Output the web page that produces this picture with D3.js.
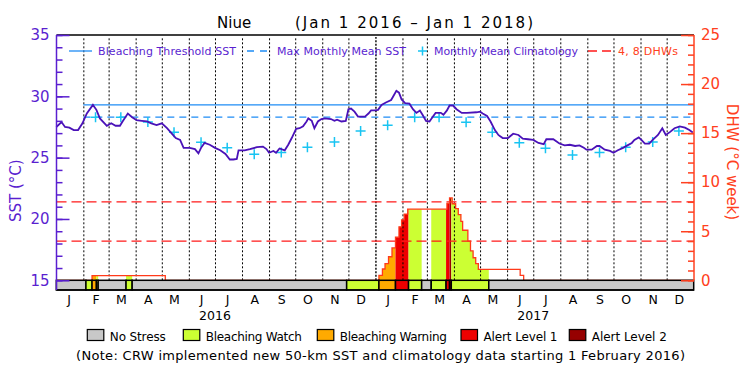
<!DOCTYPE html>
<html>
<head>
<meta charset="utf-8">
<script src="https://cdn.jsdelivr.net/npm/d3@7"></script>
<style>
  body { margin: 0; background: #fff; }
  svg { font-family: 'DejaVu Sans', sans-serif; }
</style>
</head>
<body>
<svg width="750" height="375"></svg>
<script>
// ---- data ----
const sstDates = [
  '2016-01-01','2016-01-07','2016-01-11','2016-01-16','2016-01-21','2016-01-26','2016-01-31',
  '2016-02-05','2016-02-12','2016-02-16','2016-02-20','2016-02-28','2016-03-04','2016-03-09',
  '2016-03-14','2016-03-17','2016-03-23','2016-03-28','2016-04-02','2016-04-08','2016-04-14',
  '2016-04-19','2016-04-25','2016-05-01','2016-05-07','2016-05-12','2016-05-17','2016-05-22',
  '2016-05-26','2016-06-02','2016-06-08','2016-06-12','2016-06-15','2016-06-19','2016-06-25',
  '2016-07-01','2016-07-07','2016-07-13','2016-07-18','2016-07-22','2016-07-26','2016-07-28',
  '2016-08-04','2016-08-10','2016-08-18','2016-08-25','2016-08-29','2016-09-01','2016-09-06',
  '2016-09-09','2016-09-13','2016-09-19','2016-09-23','2016-09-27','2016-10-02','2016-10-06',
  '2016-10-10','2016-10-14','2016-10-16','2016-10-20','2016-10-23','2016-10-27','2016-10-31',
  '2016-11-04','2016-11-11','2016-11-15','2016-11-18','2016-11-23','2016-11-28','2016-12-01',
  '2016-12-04','2016-12-08','2016-12-12','2016-12-20','2016-12-24','2016-12-27','2016-12-31',
  '2017-01-04','2017-01-08','2017-01-13','2017-01-19','2017-01-21','2017-01-25','2017-01-28',
  '2017-01-31','2017-02-04','2017-02-09','2017-02-13','2017-02-17','2017-02-21','2017-02-24',
  '2017-02-28','2017-03-04','2017-03-08','2017-03-11','2017-03-17','2017-03-20','2017-03-24',
  '2017-03-27','2017-03-31','2017-04-04','2017-04-10','2017-04-16','2017-04-27','2017-05-01',
  '2017-05-04','2017-05-09','2017-05-13','2017-05-18','2017-05-22','2017-05-24','2017-05-27',
  '2017-06-02','2017-06-08','2017-06-14','2017-06-19','2017-06-25','2017-07-01','2017-07-07',
  '2017-07-13','2017-07-16','2017-07-24','2017-07-31','2017-08-06','2017-08-12','2017-08-18',
  '2017-08-23','2017-08-28','2017-08-31','2017-09-06','2017-09-12','2017-09-15','2017-09-21',
  '2017-09-27','2017-10-01','2017-10-06','2017-10-12','2017-10-17','2017-10-22','2017-10-25',
  '2017-10-30','2017-11-02','2017-11-06','2017-11-11','2017-11-15','2017-11-21','2017-11-26',
  '2017-11-30','2017-12-05','2017-12-10','2017-12-16','2017-12-22','2017-12-27','2017-12-31'
];
const sstValues = [
  27.5, 27.9, 27.5, 27.45, 27.25, 27.25, 27.8,
  28.6, 29.3, 28.9, 28.2, 27.6, 27.8, 27.6,
  27.6, 27.95, 28.6, 28.3, 28.05, 28.0, 27.95,
  27.8, 27.65, 27.8, 27.4, 27.0, 26.6, 26.45,
  25.8, 25.8, 25.7, 25.35, 25.8, 26.2, 26.05,
  25.8, 25.6, 25.3, 24.85, 24.85, 24.9, 25.6,
  25.6, 25.7, 25.85, 25.9, 25.7, 25.4, 25.55,
  25.4, 25.75, 25.6, 26.05, 26.6, 27.35, 27.4,
  27.55, 27.95, 28.2, 28.0, 27.4, 27.95, 28.15,
  28.2, 28.15, 28.0, 28.1, 27.95, 28.0, 28.95,
  29.0, 28.75, 28.35, 28.35, 28.6, 28.85, 28.85,
  28.9, 29.3, 29.5, 29.7, 29.95, 30.45, 30.3,
  29.75, 29.45, 29.4, 28.95, 28.65, 28.85, 28.5,
  28.0, 27.95, 28.35, 28.65, 28.65, 28.5, 28.85,
  29.25, 29.25, 28.95, 28.65, 28.65, 28.7, 28.75,
  28.6, 28.4, 27.95, 27.25, 26.85, 26.75, 26.6,
  26.6, 26.95, 26.85, 26.55, 26.5, 26.45, 26.2,
  26.1, 26.5, 26.5, 26.15, 26.0, 26.05, 25.95,
  26.0, 25.8, 25.65, 25.65, 25.95, 25.95, 25.65,
  25.55, 25.4, 25.6, 25.8, 26.0, 26.2, 26.45,
  26.65, 26.45, 26.15, 26.15, 26.45, 26.85, 27.4,
  26.85, 27.1, 27.4, 27.55, 27.45, 27.25, 27.05
];

// monthly mean climatology (mid-month crosses)
const climDates = [
  '2016-02-15','2016-03-15','2016-04-15','2016-05-15','2016-06-15','2016-07-15',
  '2016-08-15','2016-09-15','2016-10-15','2016-11-15','2016-12-15',
  '2017-01-15','2017-02-15','2017-03-15','2017-04-15','2017-05-15','2017-06-15',
  '2017-07-15','2017-08-15','2017-09-15','2017-10-15','2017-11-15','2017-12-15'
];
const climValues = [
  28.3, 28.3, 27.9, 27.07, 26.25, 25.8, 25.28, 25.41, 25.85, 26.28, 27.18,
  27.64, 28.3, 28.3, 27.88, 27.07, 26.22, 25.77, 25.22, 25.41, 25.85, 26.28, 27.18
];

const bleachingThreshold = 29.3;
const maxMonthlyMean = 28.3;
const newDataStart = '2016-02-01';

// degree heating weeks (step series)
const dhwDates = [
  '2016-01-01','2016-02-11','2016-05-05',
  '2017-01-05','2017-01-09','2017-01-12','2017-01-16','2017-01-20','2017-01-24','2017-01-28',
  '2017-01-31','2017-02-03','2017-02-07','2017-03-24','2017-03-27','2017-03-30','2017-04-03',
  '2017-04-06','2017-04-09','2017-04-11','2017-04-17','2017-04-20','2017-04-23','2017-04-26',
  '2017-04-29','2017-06-16','2017-06-20','2018-01-01'
];
const dhwValues = [
  0, 0.48, 0,
  0.5, 1.15, 1.7, 2.4, 3.3, 4.4, 5.45,
  6.15, 6.75, 7.25, 7.85, 8.4, 7.8, 7.3,
  6.7, 6.0, 5.1, 4.0, 3.0, 2.3, 1.7,
  1.12, 0.5, 0, 0
];
const dhwLevels = [4, 8];

// stress level band: start of each period and its level
const stressStarts = [
  '2016-01-01','2016-02-04','2016-02-11','2016-02-16','2016-02-18','2016-03-21','2016-03-28',
  '2016-11-29','2017-01-05','2017-01-24','2017-02-08','2017-02-23','2017-03-06','2017-03-23',
  '2017-03-27','2017-03-29','2017-05-11'
];
const stressLevels = [0, 1, 2, 1, 0, 1, 0, 1, 2, 3, 1, 0, 1, 3, 4, 1, 0];
const stressEnd = '2018-01-01';
const stressNames = ['No Stress', 'Bleaching Watch', 'Bleaching Warning', 'Alert Level 1', 'Alert Level 2'];
const stressColors = ['#c8c8c8', '#ccff33', '#ffaa00', '#ee0000', '#960000'];

// ---- drawing ----
const svg = d3.select('svg');
const parse = d3.utcParse('%Y-%m-%d');

const purple = '#5a1fd0';
const orange = '#ff4020';
const blue = '#1e8cf5';
const cyan = '#18c4f2';

const plotLeft = 56.5, plotRight = 694, plotTop = 35, plotBase = 280.3, plotBottom = 290;

const x = d3.scaleUtc()
  .domain([parse('2016-01-01'), parse('2018-01-01')])
  .range([56.3, 693.7]);
const ySST = d3.scaleLinear().domain([15, 35]).range([plotBase, plotTop]);
const yDHW = d3.scaleLinear().domain([0, 25]).range([plotBase, plotTop]);

const sst = sstDates.map((d, i) => ({ date: parse(d), value: sstValues[i] }));
const clim = climDates.map((d, i) => ({ date: parse(d), value: climValues[i] }));
const dhw = dhwDates.map((d, i) => ({ date: parse(d), value: dhwValues[i] }));
const stress = stressStarts.map((d, i) => ({
  start: parse(d),
  end: parse(i + 1 < stressStarts.length ? stressStarts[i + 1] : stressEnd),
  level: stressLevels[i]
}));

const defs = svg.append('defs');

// DHW fill coloured by stress level, clipped to the DHW area
const dhwArea = d3.area()
  .x(d => x(d.date)).y0(yDHW(0)).y1(d => yDHW(d.value))
  .curve(d3.curveStepAfter);
defs.append('clipPath').attr('id', 'dhwClip')
  .append('path').attr('d', dhwArea(dhw));
svg.append('g').attr('clip-path', 'url(#dhwClip)')
  .selectAll('rect').data(stress.filter(s => s.level > 0)).join('rect')
    .attr('x', d => x(d.start))
    .attr('width', d => x(d.end) - x(d.start))
    .attr('y', yDHW(25))
    .attr('height', yDHW(0) - yDHW(25))
    .attr('fill', d => stressColors[d.level]);

// month grid (dotted), drawn as full-height axis ticks
const months = d3.utcMonth.range(parse('2016-02-01'), parse('2018-01-01'));
const gridG = svg.append('g').attr('transform', `translate(0,${plotBase})`);
gridG.call(d3.axisBottom(x).tickValues(months).tickSize(-(plotBase - plotTop - 2)).tickFormat(''));
gridG.select('.domain').remove();
gridG.selectAll('.tick line')
  .attr('stroke', '#000')
  .attr('stroke-width', d => d.getUTCMonth() === 0 ? 1.4 : 1)
  .attr('stroke-dasharray', d => d.getUTCMonth() === 0 ? '2,1.5' : '2,2');

// DHW 4 and 8 lines
svg.append('g').selectAll('line').data(dhwLevels).join('line')
  .attr('x1', plotLeft).attr('x2', plotRight)
  .attr('y1', d => yDHW(d)).attr('y2', d => yDHW(d))
  .attr('stroke', '#ff1a1a').attr('stroke-width', 1.3)
  .attr('stroke-dasharray', '10,5');

// DHW outline
svg.append('path')
  .attr('d', d3.line().x(d => x(d.date)).y(d => yDHW(d.value)).curve(d3.curveStepAfter)(dhw))
  .attr('fill', 'none').attr('stroke', '#ff3a1a').attr('stroke-width', 1.3);

// bleaching threshold and MMM
svg.append('line')
  .attr('x1', x(parse(newDataStart))).attr('x2', plotRight)
  .attr('y1', ySST(bleachingThreshold)).attr('y2', ySST(bleachingThreshold))
  .attr('stroke', blue).attr('stroke-width', 1.3);
svg.append('line')
  .attr('x1', x(parse(newDataStart))).attr('x2', plotRight)
  .attr('y1', ySST(maxMonthlyMean)).attr('y2', ySST(maxMonthlyMean))
  .attr('stroke', blue).attr('stroke-width', 1.3)
  .attr('stroke-dasharray', '7,5');

// climatology crosses
const cross = 5;
svg.append('g').selectAll('path').data(clim).join('path')
  .attr('d', d => {
    const cx = x(d.date), cy = ySST(d.value);
    return `M${cx - cross},${cy}H${cx + cross}M${cx},${cy - cross}V${cy + cross}`;
  })
  .attr('stroke', cyan).attr('stroke-width', 1.5);

// SST line
svg.append('path')
  .attr('d', d3.line().x(d => x(d.date)).y(d => ySST(d.value))(sst))
  .attr('fill', 'none').attr('stroke', '#4a12b8').attr('stroke-width', 1.8);

// stress band
svg.append('g').selectAll('rect').data(stress).join('rect')
  .attr('x', d => x(d.start))
  .attr('width', d => x(d.end) - x(d.start))
  .attr('y', plotBase).attr('height', plotBottom - plotBase)
  .attr('fill', d => stressColors[d.level])
  .attr('stroke', 'black').attr('stroke-width', 1.5);

// frame
svg.append('line').attr('x1', plotLeft).attr('x2', plotRight).attr('y1', plotTop).attr('y2', plotTop)
  .attr('stroke', 'black').attr('stroke-width', 1.5);
svg.append('line').attr('x1', plotLeft).attr('x2', plotRight).attr('y1', plotBottom).attr('y2', plotBottom)
  .attr('stroke', 'black').attr('stroke-width', 1.5);

// left axis (SST)
const yAxisG = svg.append('g').attr('transform', `translate(${plotLeft},0)`)
  .attr('color', purple).style('font-size', '15px');
yAxisG.call(d3.axisLeft(ySST).tickValues(d3.range(15, 36, 5)).tickSize(-13).tickPadding(7));
yAxisG.append('g').call(d3.axisLeft(ySST).tickValues(d3.range(15, 36, 1)).tickSize(-6).tickFormat(''));
yAxisG.selectAll('.domain').remove();
yAxisG.selectAll('line').attr('stroke-width', 1.5);
yAxisG.selectAll('text').attr('font-family', 'DejaVu Sans');
svg.append('line').attr('x1', plotLeft).attr('x2', plotLeft).attr('y1', plotTop).attr('y2', plotBottom)
  .attr('stroke', purple).attr('stroke-width', 1.5);
svg.append('text')
  .attr('transform', `translate(16,${(plotTop + plotBase) / 2 + 33}) rotate(-90)`)
  .attr('text-anchor', 'middle').attr('dominant-baseline', 'central')
  .attr('fill', purple).style('font-size', '15px')
  .text('SST (°C)');

// right axis (DHW)
const dAxisG = svg.append('g').attr('transform', `translate(${plotRight},0)`)
  .attr('color', orange).style('font-size', '15px');
dAxisG.call(d3.axisRight(yDHW).tickValues(d3.range(0, 26, 5)).tickSize(-13).tickPadding(7));
dAxisG.append('g').call(d3.axisRight(yDHW).tickValues(d3.range(0, 26, 1)).tickSize(-6).tickFormat(''));
dAxisG.selectAll('.domain').remove();
dAxisG.selectAll('line').attr('stroke-width', 1.5);
dAxisG.selectAll('text').attr('font-family', 'DejaVu Sans');
svg.append('line').attr('x1', plotRight).attr('x2', plotRight).attr('y1', plotTop).attr('y2', plotBase)
  .attr('stroke', orange).attr('stroke-width', 1.5);
svg.append('text')
  .attr('transform', `translate(732,162) rotate(90)`)
  .attr('text-anchor', 'middle').attr('dominant-baseline', 'central')
  .attr('fill', orange).style('font-size', '15px')
  .text('DHW (°C week)');

// month letters and years
const monthMids = d3.utcMonth.range(parse('2016-01-01'), parse('2018-01-01'))
  .map(d => d3.utcDay.offset(d, 14));
const xAxisG = svg.append('g').attr('transform', `translate(0,${plotBottom})`)
  .style('font-size', '12.5px');
xAxisG.call(d3.axisBottom(x).tickValues(monthMids).tickSize(0).tickPadding(5)
  .tickFormat(d => d3.utcFormat('%b')(d)[0]));
xAxisG.select('.domain').remove();
xAxisG.selectAll('text').attr('font-family', 'DejaVu Sans').attr('fill', 'black');

const yearMarks = ['2016-07-01', '2017-07-01'];
svg.append('g').selectAll('text').data(yearMarks).join('text')
  .attr('x', d => x(parse(d))).attr('y', 319.5)
  .attr('text-anchor', 'middle').style('font-size', '12.5px')
  .text(d => d.slice(0, 4));

// title
svg.append('text').attr('x', 217).attr('y', 28.3).style('font-size', '15px').text('Niue');
svg.append('text').attr('x', 295).attr('y', 28.3).style('font-size', '15px')
  .attr('textLength', 238).attr('lengthAdjust', 'spacing')
  .text('(Jan 1 2016 – Jan 1 2018)');

// top legend
const ly = 51;
svg.append('line').attr('x1', 69).attr('x2', 92).attr('y1', ly).attr('y2', ly)
  .attr('stroke', blue).attr('stroke-width', 1.3);
svg.append('line').attr('x1', 247).attr('x2', 268).attr('y1', ly).attr('y2', ly)
  .attr('stroke', blue).attr('stroke-width', 1.3).attr('stroke-dasharray', '7,6');
svg.append('path').attr('d', `M418,${ly}H427M422.5,${ly - 4.5}V${ly + 4.5}`)
  .attr('stroke', cyan).attr('stroke-width', 1.5);
svg.append('line').attr('x1', 588).attr('x2', 612).attr('y1', ly).attr('y2', ly)
  .attr('stroke', '#ff1a1a').attr('stroke-width', 1.3).attr('stroke-dasharray', '9,5');
const topLegend = [
  { text: 'Bleaching Threshold SST', x: 98, w: 138, c: purple },
  { text: 'Max Monthly Mean SST', x: 277, w: 129, c: purple },
  { text: 'Monthly Mean Climatology', x: 434, w: 144, c: purple },
  { text: '4, 8 DHWs', x: 618, w: 60, c: orange }
];
svg.append('g').selectAll('text').data(topLegend).join('text')
  .attr('x', d => d.x).attr('y', 55)
  .attr('textLength', d => d.w).attr('lengthAdjust', 'spacing')
  .attr('fill', d => d.c).style('font-size', '11px')
  .text(d => d.text);

// bottom legend
const legendX = [87.3, 183.3, 317.3, 461, 569.3];
const legendW = [56, 96, 107, 74, 75];
const lg = svg.append('g').selectAll('g').data(stressNames).join('g')
  .attr('transform', (d, i) => `translate(${legendX[i]},329.5)`);
lg.append('rect').attr('width', 16.5).attr('height', 11)
  .attr('fill', (d, i) => stressColors[i]).attr('stroke', 'black').attr('stroke-width', 1.2);
lg.append('text').attr('x', 22.5).attr('y', 11)
  .attr('textLength', (d, i) => legendW[i]).attr('lengthAdjust', 'spacing')
  .style('font-size', '12px').text(d => d);

svg.append('text').attr('x', 76).attr('y', 360)
  .attr('textLength', 609).attr('lengthAdjust', 'spacing')
  .style('font-size', '13px')
  .text('(Note: CRW implemented new 50-km SST and climatology data starting 1 February 2016)');
</script>
</body>
</html>
